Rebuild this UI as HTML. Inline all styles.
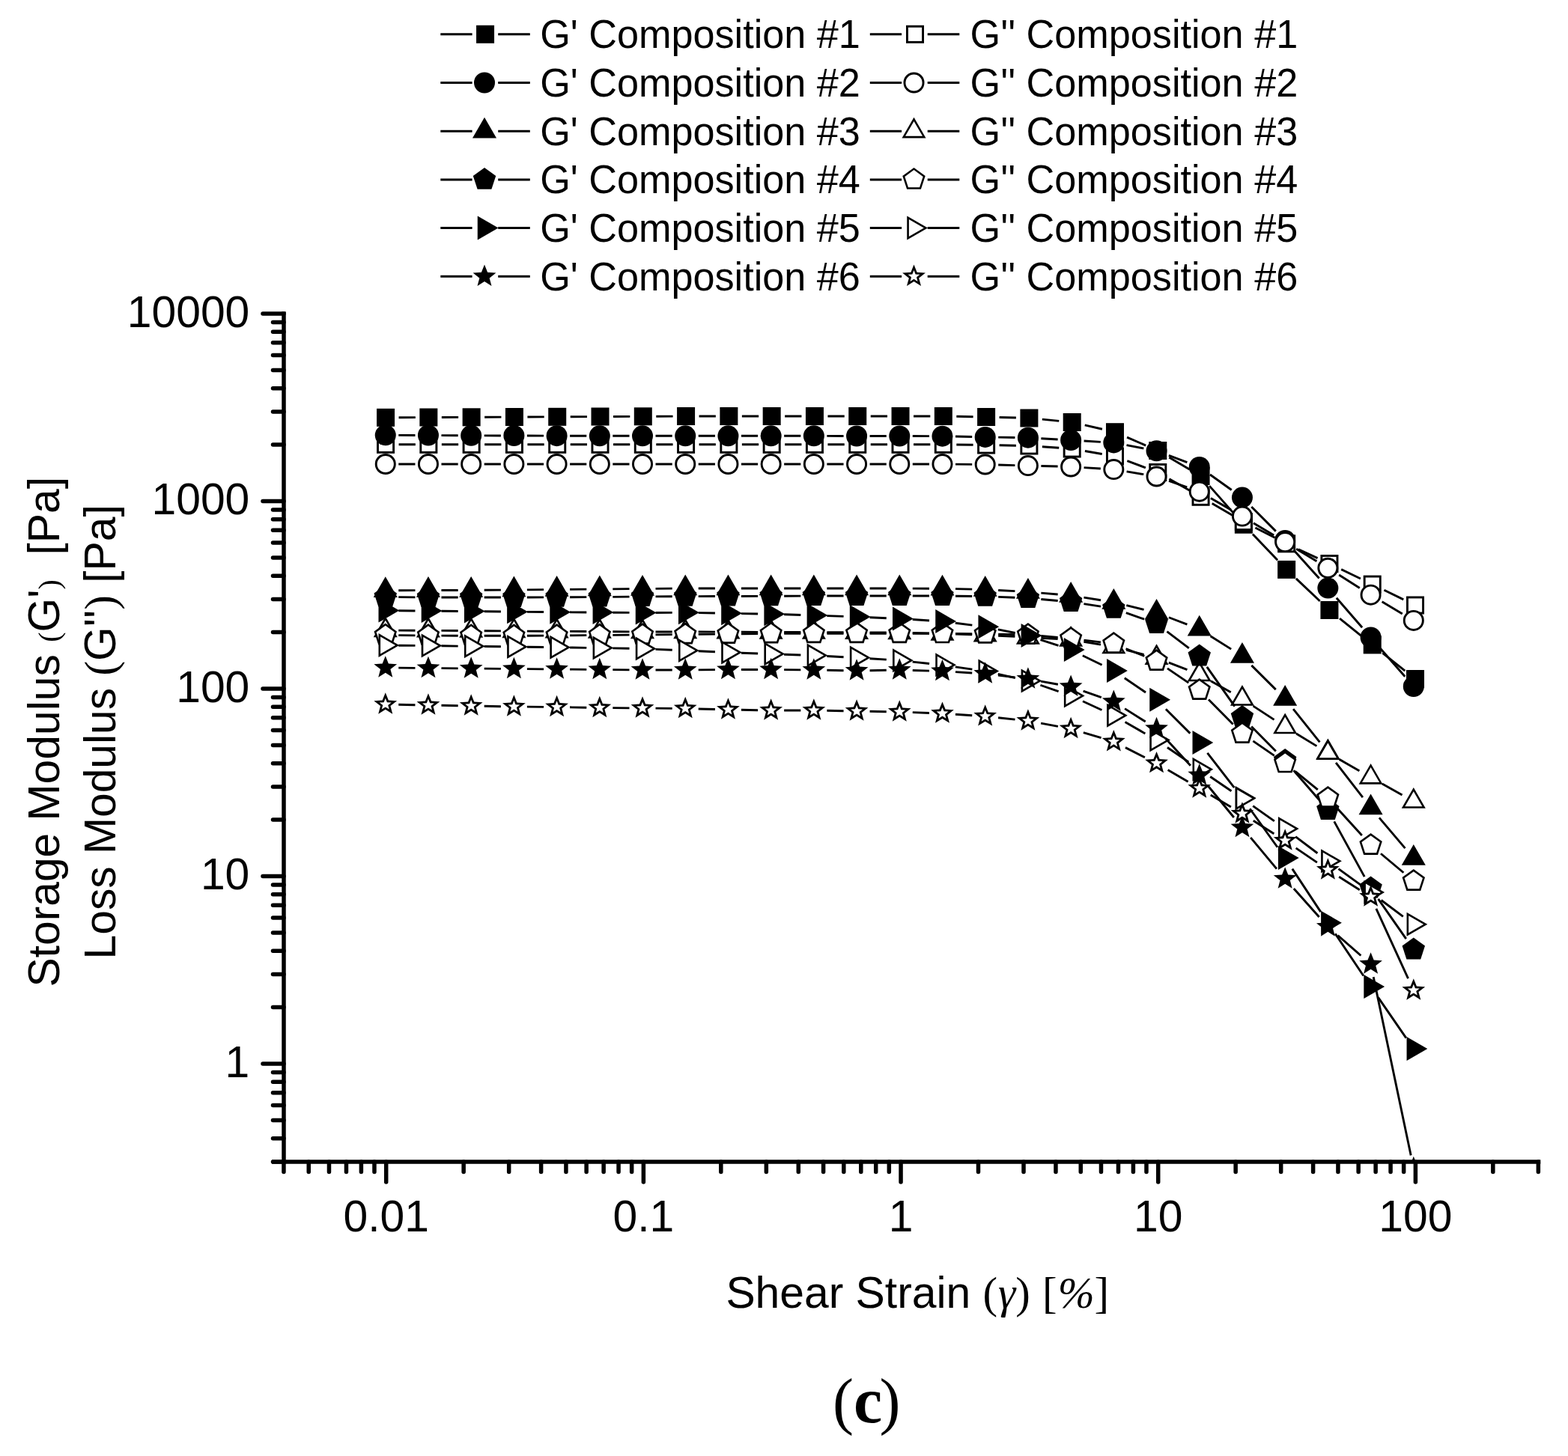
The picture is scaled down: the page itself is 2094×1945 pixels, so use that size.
<!DOCTYPE html><html><head><meta charset="utf-8"><title>Shear strain sweep</title><style>html,body{margin:0;padding:0;background:#fff}svg{display:block}.s{font-family:"Liberation Sans",Arial,sans-serif}.r{font-family:"Liberation Serif","Times New Roman",serif}</style></head><body><svg width="2094" height="1945" viewBox="0 0 2094 1945"><rect width="2094" height="1945" fill="#fff"/><defs><clipPath id="pa"><rect x="379" y="417" width="1676" height="1135"/></clipPath></defs><path d="M588.3 45.8H630.6M665.2 45.8H707.8" stroke="#000" stroke-width="3" fill="none"/><g fill="#000"><rect x="636.05" y="33.8" width="24" height="24"/></g><text class="s" font-size="52.2" transform="translate(721.2 64.3) scale(1 1.03)">G' Composition #1</text><path d="M1161.8 45.8H1204.1M1238.7 45.8H1281.3" stroke="#000" stroke-width="3" fill="none"/><g fill="#000"><rect x="1211.45" y="35.25" width="21.1" height="21.1" fill="#fff" stroke="#000" stroke-width="2.9"/></g><text class="s" font-size="52.2" transform="translate(1295.6 64.3) scale(1 1.03)">G'' Composition #1</text><path d="M588.3 110.5H630.6M665.2 110.5H707.8" stroke="#000" stroke-width="3" fill="none"/><g fill="#000"><circle cx="647" cy="110.5" r="14"/></g><text class="s" font-size="52.2" transform="translate(721.2 129) scale(1 1.03)">G' Composition #2</text><path d="M1161.8 110.5H1204.1M1238.7 110.5H1281.3" stroke="#000" stroke-width="3" fill="none"/><g fill="#000"><circle cx="1220.5" cy="110.5" r="12.55" fill="#fff" stroke="#000" stroke-width="2.9"/></g><text class="s" font-size="52.2" transform="translate(1295.6 129) scale(1 1.03)">G'' Composition #2</text><path d="M588.3 175.2H630.6M665.2 175.2H707.8" stroke="#000" stroke-width="3" fill="none"/><g fill="#000"><path d="M647 156.7 L663.02 184.45 L630.98 184.45 Z"/></g><text class="s" font-size="52.2" transform="translate(721.2 193.7) scale(1 1.03)">G' Composition #3</text><path d="M1161.8 175.2H1204.1M1238.7 175.2H1281.3" stroke="#000" stroke-width="3" fill="none"/><g fill="#000"><path d="M1220.5 156.7 L1236.52 184.45 L1204.48 184.45 Z"/><path d="M1220.5 161.9 L1232.02 181.85 L1208.98 181.85 Z" fill="#fff"/></g><text class="s" font-size="52.2" transform="translate(1295.6 193.7) scale(1 1.03)">G'' Composition #3</text><path d="M588.3 239.9H630.6M665.2 239.9H707.8" stroke="#000" stroke-width="3" fill="none"/><g fill="#000"><path d="M647 223.9 L662.22 234.96 L656.4 252.84 L637.6 252.84 L631.78 234.96 Z"/></g><text class="s" font-size="52.2" transform="translate(721.2 258.4) scale(1 1.03)">G' Composition #4</text><path d="M1161.8 239.9H1204.1M1238.7 239.9H1281.3" stroke="#000" stroke-width="3" fill="none"/><g fill="#000"><path d="M1220.5 223.9 L1235.72 234.96 L1229.9 252.84 L1211.1 252.84 L1205.28 234.96 Z"/><path d="M1220.5 227.11 L1232.66 235.95 L1228.02 250.24 L1212.98 250.24 L1208.34 235.95 Z" fill="#fff"/></g><text class="s" font-size="52.2" transform="translate(1295.6 258.4) scale(1 1.03)">G'' Composition #4</text><path d="M588.3 304.6H630.6M665.2 304.6H707.8" stroke="#000" stroke-width="3" fill="none"/><g fill="#000"><path d="M665.5 304.6 L637.75 320.62 L637.75 288.58 Z"/></g><text class="s" font-size="52.2" transform="translate(721.2 323.1) scale(1 1.03)">G' Composition #5</text><path d="M1161.8 304.6H1204.1M1238.7 304.6H1281.3" stroke="#000" stroke-width="3" fill="none"/><g fill="#000"><path d="M1239 304.6 L1211.25 320.62 L1211.25 288.58 Z"/><path d="M1233.8 304.6 L1213.85 316.12 L1213.85 293.08 Z" fill="#fff"/></g><text class="s" font-size="52.2" transform="translate(1295.6 323.1) scale(1 1.03)">G'' Composition #5</text><path d="M588.3 369.3H630.6M665.2 369.3H707.8" stroke="#000" stroke-width="3" fill="none"/><g fill="#000"><path d="M647 353.6 L651.12 363.8 L662.38 364.45 L653.66 371.4 L656.51 382 L647 376.1 L637.49 382 L640.34 371.4 L631.62 364.45 L642.88 363.8 Z"/></g><text class="s" font-size="52.2" transform="translate(721.2 387.8) scale(1 1.03)">G' Composition #6</text><path d="M1161.8 369.3H1204.1M1238.7 369.3H1281.3" stroke="#000" stroke-width="3" fill="none"/><g fill="#000"><path d="M1220.5 353.6 L1224.62 363.8 L1235.88 364.45 L1227.16 371.4 L1230.01 382 L1220.5 376.1 L1210.99 382 L1213.84 371.4 L1205.12 364.45 L1216.38 363.8 Z"/><path d="M1220.5 361.08 L1222.68 366.49 L1228.41 366.82 L1223.98 370.36 L1225.47 375.89 L1220.5 372.8 L1215.53 375.89 L1217.02 370.36 L1212.59 366.82 L1218.32 366.49 Z" fill="#fff"/></g><text class="s" font-size="52.2" transform="translate(1295.6 387.8) scale(1 1.03)">G'' Composition #6</text><g stroke="#000" stroke-width="5.5" fill="none" stroke-linecap="round"><path d="M379 416.25V1554.75" stroke-linecap="butt"/><path d="M363 1552H2057.3" stroke-linecap="butt"/><path d="M364.5 1551.98H379M364.5 1520.68H379M364.5 1496.41H379M364.5 1476.57H379M364.5 1459.8H379M364.5 1445.28H379M364.5 1432.46H379M351 1421H379M364.5 1345.59H379M364.5 1301.48H379M364.5 1270.18H379M364.5 1245.91H379M364.5 1226.07H379M364.5 1209.3H379M364.5 1194.78H379M364.5 1181.96H379M351 1170.5H379M364.5 1095.09H379M364.5 1050.98H379M364.5 1019.68H379M364.5 995.41H379M364.5 975.57H379M364.5 958.8H379M364.5 944.28H379M364.5 931.46H379M351 920H379M364.5 844.59H379M364.5 800.48H379M364.5 769.18H379M364.5 744.91H379M364.5 725.07H379M364.5 708.3H379M364.5 693.78H379M364.5 680.96H379M351 669.5H379M364.5 594.09H379M364.5 549.98H379M364.5 518.68H379M364.5 494.41H379M364.5 474.57H379M364.5 457.8H379M364.5 443.28H379M364.5 430.46H379M351 419H379"/><path d="M378.94 1552V1565.5M412.25 1552V1565.5M439.46 1552V1565.5M462.46 1552V1565.5M482.39 1552V1565.5M499.97 1552V1565.5M515.7 1552V1579M619.15 1552V1565.5M679.67 1552V1565.5M722.61 1552V1565.5M755.92 1552V1565.5M783.13 1552V1565.5M806.13 1552V1565.5M826.06 1552V1565.5M843.64 1552V1565.5M859.37 1552V1579M962.82 1552V1565.5M1023.34 1552V1565.5M1066.28 1552V1565.5M1099.59 1552V1565.5M1126.8 1552V1565.5M1149.8 1552V1565.5M1169.73 1552V1565.5M1187.31 1552V1565.5M1203.04 1552V1579M1306.49 1552V1565.5M1367.01 1552V1565.5M1409.95 1552V1565.5M1443.26 1552V1565.5M1470.47 1552V1565.5M1493.47 1552V1565.5M1513.4 1552V1565.5M1530.98 1552V1565.5M1546.71 1552V1579M1650.16 1552V1565.5M1710.68 1552V1565.5M1753.62 1552V1565.5M1786.93 1552V1565.5M1814.14 1552V1565.5M1837.14 1552V1565.5M1857.07 1552V1565.5M1874.65 1552V1565.5M1890.38 1552V1579M1993.83 1552V1565.5M2054.35 1552V1565.5"/></g><text class="s" font-size="58.8" text-anchor="end" x="333.3" y="436.5">10000</text><text class="s" font-size="58.8" text-anchor="end" x="333.3" y="687">1000</text><text class="s" font-size="58.8" text-anchor="end" x="333.3" y="937.5">100</text><text class="s" font-size="58.8" text-anchor="end" x="333.3" y="1188">10</text><text class="s" font-size="58.8" text-anchor="end" x="333.3" y="1438.5">1</text><text class="s" font-size="58.8" text-anchor="middle" x="515.7" y="1644.5">0.01</text><text class="s" font-size="58.8" text-anchor="middle" x="859.37" y="1644.5">0.1</text><text class="s" font-size="58.8" text-anchor="middle" x="1203.04" y="1644.5">1</text><text class="s" font-size="58.8" text-anchor="middle" x="1546.71" y="1644.5">10</text><text class="s" font-size="58.8" text-anchor="middle" x="1890.38" y="1644.5">100</text><text class="s" font-size="58.8" transform="translate(969.4 1747.3) scale(1 1.012)">Shear Strain <tspan class="r">(<tspan font-style="italic" dx="1">γ</tspan>)<tspan dx="1.5"> </tspan>[<tspan font-style="italic" dx="1">%</tspan>]</tspan></text><text class="s" xml:space="preserve" font-size="58.8" transform="translate(79.2 1318.6) rotate(-90) scale(1 1.02)">Storage Modulus <tspan class="r" font-size="40">(</tspan>G'<tspan class="r" font-size="40">)</tspan>  [Pa]</text><text class="s" xml:space="preserve" font-size="58.8" transform="translate(154.2 1281.5) rotate(-90) scale(1 1.02)">Loss Modulus <tspan class="r">(</tspan>G''<tspan class="r">)</tspan> [Pa]</text><text class="r" font-size="84" y="1900"><tspan x="1112.1">(</tspan><tspan x="1140.1" font-weight="bold" font-size="86">c</tspan><tspan x="1174.4">)</tspan></text><g clip-path="url(#pa)"><path d="M532.55 557.71L554.84 557.59M589.84 557.44L612.13 557.36M647.13 557.21L669.42 557.09M704.42 556.94L726.71 556.86M761.71 556.71L784 556.59M819 556.44L841.29 556.36M876.29 556.21L898.58 556.09M933.58 556L955.87 556M990.87 556L1013.16 556M1048.16 556L1070.45 556M1105.45 556L1127.74 556M1162.74 556L1185.03 556M1220.03 556L1242.32 556M1277.32 556.31L1299.61 556.69M1334.6 557.46L1356.91 558.04M1391.82 560.17L1414.27 562.33M1448.74 567.93L1471.93 573.27M1505.04 584.15L1530.21 595.05M1561.32 610.93L1588.51 627.07M1615.16 649.1L1649.25 687.6M1672.91 713.38L1706.08 748.22M1730.86 772.92L1762.71 802.98M1789.03 826.01L1819.12 850.39M1846.41 872.3L1876.32 896.1" stroke="#000" stroke-width="2.9" fill="none"/><g fill="#000"><rect x="503.05" y="545.8" width="24" height="24"/><rect x="560.34" y="545.5" width="24" height="24"/><rect x="617.63" y="545.3" width="24" height="24"/><rect x="674.92" y="545" width="24" height="24"/><rect x="732.21" y="544.8" width="24" height="24"/><rect x="789.5" y="544.5" width="24" height="24"/><rect x="846.79" y="544.3" width="24" height="24"/><rect x="904.08" y="544" width="24" height="24"/><rect x="961.37" y="544" width="24" height="24"/><rect x="1018.66" y="544" width="24" height="24"/><rect x="1075.95" y="544" width="24" height="24"/><rect x="1133.24" y="544" width="24" height="24"/><rect x="1190.53" y="544" width="24" height="24"/><rect x="1247.82" y="544" width="24" height="24"/><rect x="1305.11" y="545" width="24" height="24"/><rect x="1362.4" y="546.5" width="24" height="24"/><rect x="1419.69" y="552" width="24" height="24"/><rect x="1476.98" y="565.2" width="24" height="24"/><rect x="1534.27" y="590" width="24" height="24"/><rect x="1591.56" y="624" width="24" height="24"/><rect x="1648.85" y="688.7" width="24" height="24"/><rect x="1706.14" y="748.9" width="24" height="24"/><rect x="1763.43" y="803" width="24" height="24"/><rect x="1820.72" y="849.4" width="24" height="24"/><rect x="1878.01" y="895" width="24" height="24"/></g><path d="M532.55 593.8L554.84 593.8M589.84 593.8L612.13 593.8M647.13 593.8L669.42 593.8M704.42 593.8L726.71 593.8M761.71 593.8L784 593.8M819 593.8L841.29 593.8M876.29 593.8L898.58 593.8M933.58 593.8L955.87 593.8M990.87 593.8L1013.16 593.8M1048.16 593.8L1070.45 593.8M1105.45 593.8L1127.74 593.8M1162.74 593.8L1185.03 593.8M1220.03 593.8L1242.32 593.8M1277.32 594.01L1299.61 594.29M1334.61 594.81L1356.9 595.19M1391.86 596.72L1414.23 598.28M1448.93 602.51L1471.74 606.49M1505.36 615.65L1529.89 624.85M1561.46 639.69L1588.37 655.11M1618.7 672.57L1645.71 688.23M1676.43 704.97L1702.56 718.33M1734 733.69L1759.57 745.61M1791.2 760.6L1816.95 773M1848.45 788.26L1874.28 800.84" stroke="#000" stroke-width="2.9" fill="none"/><g fill="#000"><rect x="504.5" y="583.25" width="21.1" height="21.1" fill="#fff" stroke="#000" stroke-width="2.9"/><rect x="561.79" y="583.25" width="21.1" height="21.1" fill="#fff" stroke="#000" stroke-width="2.9"/><rect x="619.08" y="583.25" width="21.1" height="21.1" fill="#fff" stroke="#000" stroke-width="2.9"/><rect x="676.37" y="583.25" width="21.1" height="21.1" fill="#fff" stroke="#000" stroke-width="2.9"/><rect x="733.66" y="583.25" width="21.1" height="21.1" fill="#fff" stroke="#000" stroke-width="2.9"/><rect x="790.95" y="583.25" width="21.1" height="21.1" fill="#fff" stroke="#000" stroke-width="2.9"/><rect x="848.24" y="583.25" width="21.1" height="21.1" fill="#fff" stroke="#000" stroke-width="2.9"/><rect x="905.53" y="583.25" width="21.1" height="21.1" fill="#fff" stroke="#000" stroke-width="2.9"/><rect x="962.82" y="583.25" width="21.1" height="21.1" fill="#fff" stroke="#000" stroke-width="2.9"/><rect x="1020.11" y="583.25" width="21.1" height="21.1" fill="#fff" stroke="#000" stroke-width="2.9"/><rect x="1077.4" y="583.25" width="21.1" height="21.1" fill="#fff" stroke="#000" stroke-width="2.9"/><rect x="1134.69" y="583.25" width="21.1" height="21.1" fill="#fff" stroke="#000" stroke-width="2.9"/><rect x="1191.98" y="583.25" width="21.1" height="21.1" fill="#fff" stroke="#000" stroke-width="2.9"/><rect x="1249.27" y="583.25" width="21.1" height="21.1" fill="#fff" stroke="#000" stroke-width="2.9"/><rect x="1306.56" y="583.95" width="21.1" height="21.1" fill="#fff" stroke="#000" stroke-width="2.9"/><rect x="1363.85" y="584.95" width="21.1" height="21.1" fill="#fff" stroke="#000" stroke-width="2.9"/><rect x="1421.14" y="588.95" width="21.1" height="21.1" fill="#fff" stroke="#000" stroke-width="2.9"/><rect x="1478.43" y="598.95" width="21.1" height="21.1" fill="#fff" stroke="#000" stroke-width="2.9"/><rect x="1535.72" y="620.45" width="21.1" height="21.1" fill="#fff" stroke="#000" stroke-width="2.9"/><rect x="1593.01" y="653.25" width="21.1" height="21.1" fill="#fff" stroke="#000" stroke-width="2.9"/><rect x="1650.3" y="686.45" width="21.1" height="21.1" fill="#fff" stroke="#000" stroke-width="2.9"/><rect x="1707.59" y="715.75" width="21.1" height="21.1" fill="#fff" stroke="#000" stroke-width="2.9"/><rect x="1764.88" y="742.45" width="21.1" height="21.1" fill="#fff" stroke="#000" stroke-width="2.9"/><rect x="1822.17" y="770.05" width="21.1" height="21.1" fill="#fff" stroke="#000" stroke-width="2.9"/><rect x="1879.46" y="797.95" width="21.1" height="21.1" fill="#fff" stroke="#000" stroke-width="2.9"/></g><path d="M532.25 581.36L554.46 581.44M589.46 581.59L611.67 581.71M646.67 581.86L668.88 581.94M703.88 582.06L726.09 582.14M761.09 582.23L783.3 582.27M818.3 582.3L840.51 582.3M875.51 582.3L897.72 582.3M932.72 582.3L954.93 582.3M989.93 582.3L1012.14 582.3M1047.14 582.3L1069.35 582.3M1104.35 582.36L1126.56 582.44M1161.56 582.5L1183.77 582.5M1218.77 582.56L1240.98 582.64M1275.98 583.07L1298.19 583.53M1333.19 584.14L1355.4 584.46M1390.37 585.71L1412.64 586.99M1447.58 589.04L1469.85 590.36M1504.51 594.68L1527.34 599.02M1560.9 608.48L1585.37 617.72M1616 634.04L1644.69 654.46M1671.3 676.99L1703.81 709.61M1727.86 735.01L1761.67 772.59M1784.84 798.81L1819.11 838.29M1842.09 864.68L1876.28 903.82" stroke="#000" stroke-width="2.9" fill="none"/><g fill="#000"><circle cx="514.75" cy="581.3" r="14"/><circle cx="571.96" cy="581.5" r="14"/><circle cx="629.17" cy="581.8" r="14"/><circle cx="686.38" cy="582" r="14"/><circle cx="743.59" cy="582.2" r="14"/><circle cx="800.8" cy="582.3" r="14"/><circle cx="858.01" cy="582.3" r="14"/><circle cx="915.22" cy="582.3" r="14"/><circle cx="972.43" cy="582.3" r="14"/><circle cx="1029.64" cy="582.3" r="14"/><circle cx="1086.85" cy="582.3" r="14"/><circle cx="1144.06" cy="582.5" r="14"/><circle cx="1201.27" cy="582.5" r="14"/><circle cx="1258.48" cy="582.7" r="14"/><circle cx="1315.69" cy="583.9" r="14"/><circle cx="1372.9" cy="584.7" r="14"/><circle cx="1430.11" cy="588" r="14"/><circle cx="1487.32" cy="591.4" r="14"/><circle cx="1544.53" cy="602.3" r="14"/><circle cx="1601.74" cy="623.9" r="14"/><circle cx="1658.95" cy="664.6" r="14"/><circle cx="1716.16" cy="722" r="14"/><circle cx="1773.37" cy="785.6" r="14"/><circle cx="1830.58" cy="851.5" r="14"/><circle cx="1887.79" cy="917" r="14"/></g><path d="M532.25 620L554.46 620M589.46 620L611.67 620M646.67 620L668.88 620M703.88 620L726.09 620M761.09 620L783.3 620M818.3 620L840.51 620M875.51 620L897.72 620M932.72 620L954.93 620M989.93 620L1012.14 620M1047.14 620L1069.35 620M1104.35 620L1126.56 620M1161.56 620L1183.77 620M1218.77 620L1240.98 620M1275.98 620.15L1298.19 620.35M1333.18 620.99L1355.41 621.61M1390.39 622.53L1412.62 623.07M1447.58 624.6L1469.85 626M1504.59 629.94L1527.26 633.66M1561.03 642.33L1585.24 650.87M1616.91 665.42L1643.78 680.88M1673.94 698.64L1701.17 715.06M1731.12 733.18L1758.41 749.72M1788.19 768.1L1815.76 785.4M1845.6 803.68L1872.77 819.92" stroke="#000" stroke-width="2.9" fill="none"/><g fill="#000"><circle cx="514.75" cy="620" r="12.55" fill="#fff" stroke="#000" stroke-width="2.9"/><circle cx="571.96" cy="620" r="12.55" fill="#fff" stroke="#000" stroke-width="2.9"/><circle cx="629.17" cy="620" r="12.55" fill="#fff" stroke="#000" stroke-width="2.9"/><circle cx="686.38" cy="620" r="12.55" fill="#fff" stroke="#000" stroke-width="2.9"/><circle cx="743.59" cy="620" r="12.55" fill="#fff" stroke="#000" stroke-width="2.9"/><circle cx="800.8" cy="620" r="12.55" fill="#fff" stroke="#000" stroke-width="2.9"/><circle cx="858.01" cy="620" r="12.55" fill="#fff" stroke="#000" stroke-width="2.9"/><circle cx="915.22" cy="620" r="12.55" fill="#fff" stroke="#000" stroke-width="2.9"/><circle cx="972.43" cy="620" r="12.55" fill="#fff" stroke="#000" stroke-width="2.9"/><circle cx="1029.64" cy="620" r="12.55" fill="#fff" stroke="#000" stroke-width="2.9"/><circle cx="1086.85" cy="620" r="12.55" fill="#fff" stroke="#000" stroke-width="2.9"/><circle cx="1144.06" cy="620" r="12.55" fill="#fff" stroke="#000" stroke-width="2.9"/><circle cx="1201.27" cy="620" r="12.55" fill="#fff" stroke="#000" stroke-width="2.9"/><circle cx="1258.48" cy="620" r="12.55" fill="#fff" stroke="#000" stroke-width="2.9"/><circle cx="1315.69" cy="620.5" r="12.55" fill="#fff" stroke="#000" stroke-width="2.9"/><circle cx="1372.9" cy="622.1" r="12.55" fill="#fff" stroke="#000" stroke-width="2.9"/><circle cx="1430.11" cy="623.5" r="12.55" fill="#fff" stroke="#000" stroke-width="2.9"/><circle cx="1487.32" cy="627.1" r="12.55" fill="#fff" stroke="#000" stroke-width="2.9"/><circle cx="1544.53" cy="636.5" r="12.55" fill="#fff" stroke="#000" stroke-width="2.9"/><circle cx="1601.74" cy="656.7" r="12.55" fill="#fff" stroke="#000" stroke-width="2.9"/><circle cx="1658.95" cy="689.6" r="12.55" fill="#fff" stroke="#000" stroke-width="2.9"/><circle cx="1716.16" cy="724.1" r="12.55" fill="#fff" stroke="#000" stroke-width="2.9"/><circle cx="1773.37" cy="758.8" r="12.55" fill="#fff" stroke="#000" stroke-width="2.9"/><circle cx="1830.58" cy="794.7" r="12.55" fill="#fff" stroke="#000" stroke-width="2.9"/><circle cx="1887.79" cy="828.9" r="12.55" fill="#fff" stroke="#000" stroke-width="2.9"/></g><path d="M532.25 788.74L554.46 788.66M589.46 788.54L611.67 788.46M646.67 788.28L668.88 788.12M703.88 787.85L726.09 787.65M761.09 787.35L783.3 787.15M818.3 786.85L840.51 786.65M875.51 786.35L897.72 786.15M932.72 786L954.93 786M989.93 786L1012.14 786M1047.14 786L1069.35 786M1104.35 786L1126.56 786M1161.56 786L1183.77 786M1218.77 786.09L1240.98 786.21M1275.98 786.67L1298.19 787.13M1333.16 788.45L1355.43 789.65M1390.34 792.09L1412.67 794.01M1447.4 798.19L1470.03 801.71M1504.31 808.59L1527.54 814.31M1560.88 824.73L1585.39 834.07M1616.53 849.66L1644.16 867.14M1671.35 888.85L1703.76 921.15M1727.09 947.16L1762.44 991.34M1784.07 1018.84L1819.88 1065.16M1841.89 1092.35L1876.48 1133.15" stroke="#000" stroke-width="2.9" fill="none"/><g fill="#000"><path d="M514.75 770.3 L530.77 798.05 L498.73 798.05 Z"/><path d="M571.96 770.1 L587.98 797.85 L555.94 797.85 Z"/><path d="M629.17 769.9 L645.19 797.65 L613.15 797.65 Z"/><path d="M686.38 769.5 L702.4 797.25 L670.36 797.25 Z"/><path d="M743.59 769 L759.61 796.75 L727.57 796.75 Z"/><path d="M800.8 768.5 L816.82 796.25 L784.78 796.25 Z"/><path d="M858.01 768 L874.03 795.75 L841.99 795.75 Z"/><path d="M915.22 767.5 L931.24 795.25 L899.2 795.25 Z"/><path d="M972.43 767.5 L988.45 795.25 L956.41 795.25 Z"/><path d="M1029.64 767.5 L1045.66 795.25 L1013.62 795.25 Z"/><path d="M1086.85 767.5 L1102.87 795.25 L1070.83 795.25 Z"/><path d="M1144.06 767.5 L1160.08 795.25 L1128.04 795.25 Z"/><path d="M1201.27 767.5 L1217.29 795.25 L1185.25 795.25 Z"/><path d="M1258.48 767.8 L1274.5 795.55 L1242.46 795.55 Z"/><path d="M1315.69 769 L1331.71 796.75 L1299.67 796.75 Z"/><path d="M1372.9 772.1 L1388.92 799.85 L1356.88 799.85 Z"/><path d="M1430.11 777 L1446.13 804.75 L1414.09 804.75 Z"/><path d="M1487.32 785.9 L1503.34 813.65 L1471.3 813.65 Z"/><path d="M1544.53 800 L1560.55 827.75 L1528.51 827.75 Z"/><path d="M1601.74 821.8 L1617.76 849.55 L1585.72 849.55 Z"/><path d="M1658.95 858 L1674.97 885.75 L1642.93 885.75 Z"/><path d="M1716.16 915 L1732.18 942.75 L1700.14 942.75 Z"/><path d="M1773.37 986.5 L1789.39 1014.25 L1757.35 1014.25 Z"/><path d="M1830.58 1060.5 L1846.6 1088.25 L1814.56 1088.25 Z"/><path d="M1887.79 1128 L1903.81 1155.75 L1871.77 1155.75 Z"/></g><path d="M532.25 842.09L554.46 842.21M589.46 842.39L611.67 842.51M646.67 842.72L668.88 842.88M703.88 843.09L726.09 843.21M761.09 843.39L783.3 843.51M818.3 843.72L840.51 843.88M875.51 844L897.72 844M932.72 844.06L954.93 844.14M989.93 844.26L1012.14 844.34M1047.14 844.46L1069.35 844.54M1104.35 844.66L1126.56 844.74M1161.56 844.86L1183.77 844.94M1218.76 845.46L1240.99 846.04M1275.97 847.02L1298.2 847.68M1333.16 849.18L1355.43 850.42M1390.37 852.35L1412.64 853.55M1447.38 857.34L1470.05 861.06M1504.26 868.31L1527.59 874.39M1560.84 885.13L1585.43 894.67M1616.96 909.64L1643.73 924.86M1673.59 943.09L1701.52 961.41M1731.12 980.08L1758.41 996.62M1788.56 1014.38L1815.39 1029.72M1845.83 1046.98L1872.54 1062.02" stroke="#000" stroke-width="2.9" fill="none"/><g fill="#000"><path d="M514.75 823.5 L530.77 851.25 L498.73 851.25 Z"/><path d="M514.75 828.7 L526.27 848.65 L503.23 848.65 Z" fill="#fff"/><path d="M571.96 823.8 L587.98 851.55 L555.94 851.55 Z"/><path d="M571.96 829 L583.48 848.95 L560.44 848.95 Z" fill="#fff"/><path d="M629.17 824.1 L645.19 851.85 L613.15 851.85 Z"/><path d="M629.17 829.3 L640.69 849.25 L617.65 849.25 Z" fill="#fff"/><path d="M686.38 824.5 L702.4 852.25 L670.36 852.25 Z"/><path d="M686.38 829.7 L697.9 849.65 L674.86 849.65 Z" fill="#fff"/><path d="M743.59 824.8 L759.61 852.55 L727.57 852.55 Z"/><path d="M743.59 830 L755.11 849.95 L732.07 849.95 Z" fill="#fff"/><path d="M800.8 825.1 L816.82 852.85 L784.78 852.85 Z"/><path d="M800.8 830.3 L812.32 850.25 L789.28 850.25 Z" fill="#fff"/><path d="M858.01 825.5 L874.03 853.25 L841.99 853.25 Z"/><path d="M858.01 830.7 L869.53 850.65 L846.49 850.65 Z" fill="#fff"/><path d="M915.22 825.5 L931.24 853.25 L899.2 853.25 Z"/><path d="M915.22 830.7 L926.74 850.65 L903.7 850.65 Z" fill="#fff"/><path d="M972.43 825.7 L988.45 853.45 L956.41 853.45 Z"/><path d="M972.43 830.9 L983.95 850.85 L960.91 850.85 Z" fill="#fff"/><path d="M1029.64 825.9 L1045.66 853.65 L1013.62 853.65 Z"/><path d="M1029.64 831.1 L1041.16 851.05 L1018.12 851.05 Z" fill="#fff"/><path d="M1086.85 826.1 L1102.87 853.85 L1070.83 853.85 Z"/><path d="M1086.85 831.3 L1098.37 851.25 L1075.33 851.25 Z" fill="#fff"/><path d="M1144.06 826.3 L1160.08 854.05 L1128.04 854.05 Z"/><path d="M1144.06 831.5 L1155.58 851.45 L1132.54 851.45 Z" fill="#fff"/><path d="M1201.27 826.5 L1217.29 854.25 L1185.25 854.25 Z"/><path d="M1201.27 831.7 L1212.79 851.65 L1189.75 851.65 Z" fill="#fff"/><path d="M1258.48 828 L1274.5 855.75 L1242.46 855.75 Z"/><path d="M1258.48 833.2 L1270 853.15 L1246.96 853.15 Z" fill="#fff"/><path d="M1315.69 829.7 L1331.71 857.45 L1299.67 857.45 Z"/><path d="M1315.69 834.9 L1327.21 854.85 L1304.17 854.85 Z" fill="#fff"/><path d="M1372.9 832.9 L1388.92 860.65 L1356.88 860.65 Z"/><path d="M1372.9 838.1 L1384.42 858.05 L1361.38 858.05 Z" fill="#fff"/><path d="M1430.11 836 L1446.13 863.75 L1414.09 863.75 Z"/><path d="M1430.11 841.2 L1441.63 861.15 L1418.59 861.15 Z" fill="#fff"/><path d="M1487.32 845.4 L1503.34 873.15 L1471.3 873.15 Z"/><path d="M1487.32 850.6 L1498.84 870.55 L1475.8 870.55 Z" fill="#fff"/><path d="M1544.53 860.3 L1560.55 888.05 L1528.51 888.05 Z"/><path d="M1544.53 865.5 L1556.05 885.45 L1533.01 885.45 Z" fill="#fff"/><path d="M1601.74 882.5 L1617.76 910.25 L1585.72 910.25 Z"/><path d="M1601.74 887.7 L1613.26 907.65 L1590.22 907.65 Z" fill="#fff"/><path d="M1658.95 915 L1674.97 942.75 L1642.93 942.75 Z"/><path d="M1658.95 920.2 L1670.47 940.15 L1647.43 940.15 Z" fill="#fff"/><path d="M1716.16 952.5 L1732.18 980.25 L1700.14 980.25 Z"/><path d="M1716.16 957.7 L1727.68 977.65 L1704.64 977.65 Z" fill="#fff"/><path d="M1773.37 987.2 L1789.39 1014.95 L1757.35 1014.95 Z"/><path d="M1773.37 992.4 L1784.89 1012.35 L1761.85 1012.35 Z" fill="#fff"/><path d="M1830.58 1019.9 L1846.6 1047.65 L1814.56 1047.65 Z"/><path d="M1830.58 1025.1 L1842.1 1045.05 L1819.06 1045.05 Z" fill="#fff"/><path d="M1887.79 1052.1 L1903.81 1079.85 L1871.77 1079.85 Z"/><path d="M1887.79 1057.3 L1899.31 1077.25 L1876.27 1077.25 Z" fill="#fff"/></g><path d="M532.25 797.65L554.46 797.85M589.46 798L611.67 798M646.67 798L668.88 798M703.88 797.94L726.09 797.86M761.09 797.71L783.3 797.59M818.3 797.35L840.51 797.15M875.51 796.91L897.72 796.79M932.72 796.64L954.93 796.56M989.93 796.44L1012.14 796.36M1047.14 796.21L1069.35 796.09M1104.35 796L1126.56 796M1161.56 796L1183.77 796M1218.77 796L1240.98 796M1275.98 796.21L1298.19 796.49M1333.18 797.4L1355.41 798.3M1390.33 800.52L1412.68 802.48M1447.41 806.63L1470.02 810.07M1503.8 818.58L1528.05 827.22M1558.47 843.68L1587.8 865.92M1611.79 890.82L1648.9 943.68M1671.24 970.46L1703.87 1003.54M1727.62 1029.22L1761.91 1068.78M1781.77 1097.35L1822.18 1171.15M1840.59 1200.85L1877.78 1254.15" stroke="#000" stroke-width="2.9" fill="none"/><g fill="#000"><path d="M514.75 781.5 L529.97 792.56 L524.15 810.44 L505.35 810.44 L499.53 792.56 Z"/><path d="M571.96 782 L587.18 793.06 L581.36 810.94 L562.56 810.94 L556.74 793.06 Z"/><path d="M629.17 782 L644.39 793.06 L638.57 810.94 L619.77 810.94 L613.95 793.06 Z"/><path d="M686.38 782 L701.6 793.06 L695.78 810.94 L676.98 810.94 L671.16 793.06 Z"/><path d="M743.59 781.8 L758.81 792.86 L752.99 810.74 L734.19 810.74 L728.37 792.86 Z"/><path d="M800.8 781.5 L816.02 792.56 L810.2 810.44 L791.4 810.44 L785.58 792.56 Z"/><path d="M858.01 781 L873.23 792.06 L867.41 809.94 L848.61 809.94 L842.79 792.06 Z"/><path d="M915.22 780.7 L930.44 791.76 L924.62 809.64 L905.82 809.64 L900 791.76 Z"/><path d="M972.43 780.5 L987.65 791.56 L981.83 809.44 L963.03 809.44 L957.21 791.56 Z"/><path d="M1029.64 780.3 L1044.86 791.36 L1039.04 809.24 L1020.24 809.24 L1014.42 791.36 Z"/><path d="M1086.85 780 L1102.07 791.06 L1096.25 808.94 L1077.45 808.94 L1071.63 791.06 Z"/><path d="M1144.06 780 L1159.28 791.06 L1153.46 808.94 L1134.66 808.94 L1128.84 791.06 Z"/><path d="M1201.27 780 L1216.49 791.06 L1210.67 808.94 L1191.87 808.94 L1186.05 791.06 Z"/><path d="M1258.48 780 L1273.7 791.06 L1267.88 808.94 L1249.08 808.94 L1243.26 791.06 Z"/><path d="M1315.69 780.7 L1330.91 791.76 L1325.09 809.64 L1306.29 809.64 L1300.47 791.76 Z"/><path d="M1372.9 783 L1388.12 794.06 L1382.3 811.94 L1363.5 811.94 L1357.68 794.06 Z"/><path d="M1430.11 788 L1445.33 799.06 L1439.51 816.94 L1420.71 816.94 L1414.89 799.06 Z"/><path d="M1487.32 796.7 L1502.54 807.76 L1496.72 825.64 L1477.92 825.64 L1472.1 807.76 Z"/><path d="M1544.53 817.1 L1559.75 828.16 L1553.93 846.04 L1535.13 846.04 L1529.31 828.16 Z"/><path d="M1601.74 860.5 L1616.96 871.56 L1611.14 889.44 L1592.34 889.44 L1586.52 871.56 Z"/><path d="M1658.95 942 L1674.17 953.06 L1668.35 970.94 L1649.55 970.94 L1643.73 953.06 Z"/><path d="M1716.16 1000 L1731.38 1011.06 L1725.56 1028.94 L1706.76 1028.94 L1700.94 1011.06 Z"/><path d="M1773.37 1066 L1788.59 1077.06 L1782.77 1094.94 L1763.97 1094.94 L1758.15 1077.06 Z"/><path d="M1830.58 1170.5 L1845.8 1181.56 L1839.98 1199.44 L1821.18 1199.44 L1815.36 1181.56 Z"/><path d="M1887.79 1252.5 L1903.01 1263.56 L1897.19 1281.44 L1878.39 1281.44 L1872.57 1263.56 Z"/></g><path d="M532.25 848.65L554.46 848.85M589.46 849.09L611.67 849.21M646.67 849.3L668.88 849.3M703.88 849.21L726.09 849.09M761.09 848.85L783.3 848.65M818.3 848.35L840.51 848.15M875.51 847.85L897.72 847.65M932.72 847.35L954.93 847.15M989.93 846.85L1012.14 846.65M1047.14 846.41L1069.35 846.29M1104.35 846.2L1126.56 846.2M1161.56 846.2L1183.77 846.2M1218.77 846.23L1240.98 846.27M1275.98 846.42L1298.19 846.58M1333.19 847.1L1355.4 847.6M1390.33 849.52L1412.68 851.48M1447.48 855.13L1469.95 857.87M1503.56 866.53L1528.29 876.47M1558.99 892.86L1587.28 912.14M1614.03 934.46L1646.66 967.54M1673.37 989.91L1701.74 1009.39M1729.72 1030.37L1759.81 1054.93M1785.13 1078.96L1818.82 1116.04M1843.99 1140.25L1874.38 1165.75" stroke="#000" stroke-width="2.9" fill="none"/><g fill="#000"><path d="M514.75 832.5 L529.97 843.56 L524.15 861.44 L505.35 861.44 L499.53 843.56 Z"/><path d="M514.75 835.71 L526.91 844.55 L522.27 858.84 L507.23 858.84 L502.59 844.55 Z" fill="#fff"/><path d="M571.96 833 L587.18 844.06 L581.36 861.94 L562.56 861.94 L556.74 844.06 Z"/><path d="M571.96 836.21 L584.12 845.05 L579.48 859.34 L564.44 859.34 L559.8 845.05 Z" fill="#fff"/><path d="M629.17 833.3 L644.39 844.36 L638.57 862.24 L619.77 862.24 L613.95 844.36 Z"/><path d="M629.17 836.51 L641.33 845.35 L636.69 859.64 L621.65 859.64 L617.01 845.35 Z" fill="#fff"/><path d="M686.38 833.3 L701.6 844.36 L695.78 862.24 L676.98 862.24 L671.16 844.36 Z"/><path d="M686.38 836.51 L698.54 845.35 L693.9 859.64 L678.86 859.64 L674.22 845.35 Z" fill="#fff"/><path d="M743.59 833 L758.81 844.06 L752.99 861.94 L734.19 861.94 L728.37 844.06 Z"/><path d="M743.59 836.21 L755.75 845.05 L751.11 859.34 L736.07 859.34 L731.43 845.05 Z" fill="#fff"/><path d="M800.8 832.5 L816.02 843.56 L810.2 861.44 L791.4 861.44 L785.58 843.56 Z"/><path d="M800.8 835.71 L812.96 844.55 L808.32 858.84 L793.28 858.84 L788.64 844.55 Z" fill="#fff"/><path d="M858.01 832 L873.23 843.06 L867.41 860.94 L848.61 860.94 L842.79 843.06 Z"/><path d="M858.01 835.21 L870.17 844.05 L865.53 858.34 L850.49 858.34 L845.85 844.05 Z" fill="#fff"/><path d="M915.22 831.5 L930.44 842.56 L924.62 860.44 L905.82 860.44 L900 842.56 Z"/><path d="M915.22 834.71 L927.38 843.55 L922.74 857.84 L907.7 857.84 L903.06 843.55 Z" fill="#fff"/><path d="M972.43 831 L987.65 842.06 L981.83 859.94 L963.03 859.94 L957.21 842.06 Z"/><path d="M972.43 834.21 L984.59 843.05 L979.95 857.34 L964.91 857.34 L960.27 843.05 Z" fill="#fff"/><path d="M1029.64 830.5 L1044.86 841.56 L1039.04 859.44 L1020.24 859.44 L1014.42 841.56 Z"/><path d="M1029.64 833.71 L1041.8 842.55 L1037.16 856.84 L1022.12 856.84 L1017.48 842.55 Z" fill="#fff"/><path d="M1086.85 830.2 L1102.07 841.26 L1096.25 859.14 L1077.45 859.14 L1071.63 841.26 Z"/><path d="M1086.85 833.41 L1099.01 842.25 L1094.37 856.54 L1079.33 856.54 L1074.69 842.25 Z" fill="#fff"/><path d="M1144.06 830.2 L1159.28 841.26 L1153.46 859.14 L1134.66 859.14 L1128.84 841.26 Z"/><path d="M1144.06 833.41 L1156.22 842.25 L1151.58 856.54 L1136.54 856.54 L1131.9 842.25 Z" fill="#fff"/><path d="M1201.27 830.2 L1216.49 841.26 L1210.67 859.14 L1191.87 859.14 L1186.05 841.26 Z"/><path d="M1201.27 833.41 L1213.43 842.25 L1208.79 856.54 L1193.75 856.54 L1189.11 842.25 Z" fill="#fff"/><path d="M1258.48 830.3 L1273.7 841.36 L1267.88 859.24 L1249.08 859.24 L1243.26 841.36 Z"/><path d="M1258.48 833.51 L1270.64 842.35 L1266 856.64 L1250.96 856.64 L1246.32 842.35 Z" fill="#fff"/><path d="M1315.69 830.7 L1330.91 841.76 L1325.09 859.64 L1306.29 859.64 L1300.47 841.76 Z"/><path d="M1315.69 833.91 L1327.85 842.75 L1323.21 857.04 L1308.17 857.04 L1303.53 842.75 Z" fill="#fff"/><path d="M1372.9 832 L1388.12 843.06 L1382.3 860.94 L1363.5 860.94 L1357.68 843.06 Z"/><path d="M1372.9 835.21 L1385.06 844.05 L1380.42 858.34 L1365.38 858.34 L1360.74 844.05 Z" fill="#fff"/><path d="M1430.11 837 L1445.33 848.06 L1439.51 865.94 L1420.71 865.94 L1414.89 848.06 Z"/><path d="M1430.11 840.21 L1442.27 849.05 L1437.63 863.34 L1422.59 863.34 L1417.95 849.05 Z" fill="#fff"/><path d="M1487.32 844 L1502.54 855.06 L1496.72 872.94 L1477.92 872.94 L1472.1 855.06 Z"/><path d="M1487.32 847.21 L1499.48 856.05 L1494.84 870.34 L1479.8 870.34 L1475.16 856.05 Z" fill="#fff"/><path d="M1544.53 867 L1559.75 878.06 L1553.93 895.94 L1535.13 895.94 L1529.31 878.06 Z"/><path d="M1544.53 870.21 L1556.69 879.05 L1552.05 893.34 L1537.01 893.34 L1532.37 879.05 Z" fill="#fff"/><path d="M1601.74 906 L1616.96 917.06 L1611.14 934.94 L1592.34 934.94 L1586.52 917.06 Z"/><path d="M1601.74 909.21 L1613.9 918.05 L1609.26 932.34 L1594.22 932.34 L1589.58 918.05 Z" fill="#fff"/><path d="M1658.95 964 L1674.17 975.06 L1668.35 992.94 L1649.55 992.94 L1643.73 975.06 Z"/><path d="M1658.95 967.21 L1671.11 976.05 L1666.47 990.34 L1651.43 990.34 L1646.79 976.05 Z" fill="#fff"/><path d="M1716.16 1003.3 L1731.38 1014.36 L1725.56 1032.24 L1706.76 1032.24 L1700.94 1014.36 Z"/><path d="M1716.16 1006.51 L1728.32 1015.35 L1723.68 1029.64 L1708.64 1029.64 L1704 1015.35 Z" fill="#fff"/><path d="M1773.37 1050 L1788.59 1061.06 L1782.77 1078.94 L1763.97 1078.94 L1758.15 1061.06 Z"/><path d="M1773.37 1053.21 L1785.53 1062.05 L1780.89 1076.34 L1765.85 1076.34 L1761.21 1062.05 Z" fill="#fff"/><path d="M1830.58 1113 L1845.8 1124.06 L1839.98 1141.94 L1821.18 1141.94 L1815.36 1124.06 Z"/><path d="M1830.58 1116.21 L1842.74 1125.05 L1838.1 1139.34 L1823.06 1139.34 L1818.42 1125.05 Z" fill="#fff"/><path d="M1887.79 1161 L1903.01 1172.06 L1897.19 1189.94 L1878.39 1189.94 L1872.57 1172.06 Z"/><path d="M1887.79 1164.21 L1899.95 1173.05 L1895.31 1187.34 L1880.27 1187.34 L1875.63 1173.05 Z" fill="#fff"/></g><path d="M532.25 815.75L554.46 815.95M589.46 816.25L611.67 816.45M646.67 816.78L668.88 817.02M703.88 817.35L726.09 817.55M761.09 817.82L783.3 817.98M818.3 818.22L840.51 818.38M875.51 818.44L897.72 818.36M932.72 818.61L954.93 818.99M989.93 819.61L1012.14 819.99M1047.13 820.82L1069.36 821.48M1104.34 822.61L1126.57 823.39M1161.54 824.76L1183.79 825.74M1218.74 827.57L1241.01 828.93M1275.84 832.22L1298.33 835.08M1332.84 840.81L1355.75 845.49M1389.51 854.52L1413.5 862.48M1445.83 875.69L1471.6 888.31M1501.8 905.82L1530.05 924.98M1556.91 947.17L1589.36 979.63M1612.44 1005.84L1648.25 1052.16M1669.13 1080.23L1705.98 1131.77M1725.8 1160.61L1763.73 1218.09M1783.12 1247.23L1820.83 1303.47M1840.51 1332.41L1877.86 1386.59" stroke="#000" stroke-width="2.9" fill="none"/><g fill="#000"><path d="M533.25 815.6 L505.5 831.62 L505.5 799.58 Z"/><path d="M590.46 816.1 L562.71 832.12 L562.71 800.08 Z"/><path d="M647.67 816.6 L619.92 832.62 L619.92 800.58 Z"/><path d="M704.88 817.2 L677.13 833.22 L677.13 801.18 Z"/><path d="M762.09 817.7 L734.34 833.72 L734.34 801.68 Z"/><path d="M819.3 818.1 L791.55 834.12 L791.55 802.08 Z"/><path d="M876.51 818.5 L848.76 834.52 L848.76 802.48 Z"/><path d="M933.72 818.3 L905.97 834.32 L905.97 802.28 Z"/><path d="M990.93 819.3 L963.18 835.32 L963.18 803.28 Z"/><path d="M1048.14 820.3 L1020.39 836.32 L1020.39 804.28 Z"/><path d="M1105.35 822 L1077.6 838.02 L1077.6 805.98 Z"/><path d="M1162.56 824 L1134.81 840.02 L1134.81 807.98 Z"/><path d="M1219.77 826.5 L1192.02 842.52 L1192.02 810.48 Z"/><path d="M1276.98 830 L1249.23 846.02 L1249.23 813.98 Z"/><path d="M1334.19 837.3 L1306.44 853.32 L1306.44 821.28 Z"/><path d="M1391.4 849 L1363.65 865.02 L1363.65 832.98 Z"/><path d="M1448.61 868 L1420.86 884.02 L1420.86 851.98 Z"/><path d="M1505.82 896 L1478.07 912.02 L1478.07 879.98 Z"/><path d="M1563.03 934.8 L1535.28 950.82 L1535.28 918.78 Z"/><path d="M1620.24 992 L1592.49 1008.02 L1592.49 975.98 Z"/><path d="M1677.45 1066 L1649.7 1082.02 L1649.7 1049.98 Z"/><path d="M1734.66 1146 L1706.91 1162.02 L1706.91 1129.98 Z"/><path d="M1791.87 1232.7 L1764.12 1248.72 L1764.12 1216.68 Z"/><path d="M1849.08 1318 L1821.33 1334.02 L1821.33 1301.98 Z"/><path d="M1906.29 1401 L1878.54 1417.02 L1878.54 1384.98 Z"/></g><path d="M532.25 862.18L554.46 862.42M589.46 862.81L611.67 863.09M646.67 863.51L668.88 863.79M703.88 864.24L726.09 864.56M761.09 865.04L783.3 865.36M818.3 865.91L840.51 866.29M875.49 867.33L897.74 868.27M932.7 869.79L954.95 870.81M989.92 872.21L1012.15 872.99M1047.13 874.21L1069.36 874.99M1104.33 876.52L1126.58 877.68M1161.52 879.73L1183.81 881.17M1218.67 884.13L1241.08 886.47M1275.8 890.81L1298.37 894.09M1332.76 900.45L1355.83 905.65M1389.43 915.25L1413.58 923.65M1446 936.73L1471.43 948.47M1502.5 964.5L1529.35 979.9M1558.98 998.47L1587.29 1017.83M1616.22 1037.52L1644.47 1056.68M1673.23 1076.61L1701.88 1096.89M1730.11 1117.56L1759.42 1139.74M1787.51 1160.61L1816.44 1181.69M1844.59 1202.48L1873.78 1224.32" stroke="#000" stroke-width="2.9" fill="none"/><g fill="#000"><path d="M533.25 862 L505.5 878.02 L505.5 845.98 Z"/><path d="M528.05 862 L508.1 873.52 L508.1 850.48 Z" fill="#fff"/><path d="M590.46 862.6 L562.71 878.62 L562.71 846.58 Z"/><path d="M585.26 862.6 L565.31 874.12 L565.31 851.08 Z" fill="#fff"/><path d="M647.67 863.3 L619.92 879.32 L619.92 847.28 Z"/><path d="M642.47 863.3 L622.52 874.82 L622.52 851.78 Z" fill="#fff"/><path d="M704.88 864 L677.13 880.02 L677.13 847.98 Z"/><path d="M699.68 864 L679.73 875.52 L679.73 852.48 Z" fill="#fff"/><path d="M762.09 864.8 L734.34 880.82 L734.34 848.78 Z"/><path d="M756.89 864.8 L736.94 876.32 L736.94 853.28 Z" fill="#fff"/><path d="M819.3 865.6 L791.55 881.62 L791.55 849.58 Z"/><path d="M814.1 865.6 L794.15 877.12 L794.15 854.08 Z" fill="#fff"/><path d="M876.51 866.6 L848.76 882.62 L848.76 850.58 Z"/><path d="M871.31 866.6 L851.36 878.12 L851.36 855.08 Z" fill="#fff"/><path d="M933.72 869 L905.97 885.02 L905.97 852.98 Z"/><path d="M928.52 869 L908.57 880.52 L908.57 857.48 Z" fill="#fff"/><path d="M990.93 871.6 L963.18 887.62 L963.18 855.58 Z"/><path d="M985.73 871.6 L965.78 883.12 L965.78 860.08 Z" fill="#fff"/><path d="M1048.14 873.6 L1020.39 889.62 L1020.39 857.58 Z"/><path d="M1042.94 873.6 L1022.99 885.12 L1022.99 862.08 Z" fill="#fff"/><path d="M1105.35 875.6 L1077.6 891.62 L1077.6 859.58 Z"/><path d="M1100.15 875.6 L1080.2 887.12 L1080.2 864.08 Z" fill="#fff"/><path d="M1162.56 878.6 L1134.81 894.62 L1134.81 862.58 Z"/><path d="M1157.36 878.6 L1137.41 890.12 L1137.41 867.08 Z" fill="#fff"/><path d="M1219.77 882.3 L1192.02 898.32 L1192.02 866.28 Z"/><path d="M1214.57 882.3 L1194.62 893.82 L1194.62 870.78 Z" fill="#fff"/><path d="M1276.98 888.3 L1249.23 904.32 L1249.23 872.28 Z"/><path d="M1271.78 888.3 L1251.83 899.82 L1251.83 876.78 Z" fill="#fff"/><path d="M1334.19 896.6 L1306.44 912.62 L1306.44 880.58 Z"/><path d="M1328.99 896.6 L1309.04 908.12 L1309.04 885.08 Z" fill="#fff"/><path d="M1391.4 909.5 L1363.65 925.52 L1363.65 893.48 Z"/><path d="M1386.2 909.5 L1366.25 921.02 L1366.25 897.98 Z" fill="#fff"/><path d="M1448.61 929.4 L1420.86 945.42 L1420.86 913.38 Z"/><path d="M1443.41 929.4 L1423.46 940.92 L1423.46 917.88 Z" fill="#fff"/><path d="M1505.82 955.8 L1478.07 971.82 L1478.07 939.78 Z"/><path d="M1500.62 955.8 L1480.67 967.32 L1480.67 944.28 Z" fill="#fff"/><path d="M1563.03 988.6 L1535.28 1004.62 L1535.28 972.58 Z"/><path d="M1557.83 988.6 L1537.88 1000.12 L1537.88 977.08 Z" fill="#fff"/><path d="M1620.24 1027.7 L1592.49 1043.72 L1592.49 1011.68 Z"/><path d="M1615.04 1027.7 L1595.09 1039.22 L1595.09 1016.18 Z" fill="#fff"/><path d="M1677.45 1066.5 L1649.7 1082.52 L1649.7 1050.48 Z"/><path d="M1672.25 1066.5 L1652.3 1078.02 L1652.3 1054.98 Z" fill="#fff"/><path d="M1734.66 1107 L1706.91 1123.02 L1706.91 1090.98 Z"/><path d="M1729.46 1107 L1709.51 1118.52 L1709.51 1095.48 Z" fill="#fff"/><path d="M1791.87 1150.3 L1764.12 1166.32 L1764.12 1134.28 Z"/><path d="M1786.67 1150.3 L1766.72 1161.82 L1766.72 1138.78 Z" fill="#fff"/><path d="M1849.08 1192 L1821.33 1208.02 L1821.33 1175.98 Z"/><path d="M1843.88 1192 L1823.93 1203.52 L1823.93 1180.48 Z" fill="#fff"/><path d="M1906.29 1234.8 L1878.54 1250.82 L1878.54 1218.78 Z"/><path d="M1901.09 1234.8 L1881.14 1246.32 L1881.14 1223.28 Z" fill="#fff"/></g><path d="M532.25 892.15L554.46 892.35M589.46 892.65L611.67 892.85M646.67 893.15L668.88 893.35M703.88 893.65L726.09 893.85M761.09 894.15L783.3 894.35M818.3 894.65L840.51 894.85M875.51 895L897.72 895M932.72 894.85L954.93 894.65M989.93 894.5L1012.14 894.5M1047.14 894.65L1069.35 894.85M1104.35 895.31L1126.56 895.69M1161.56 895.69L1183.77 895.31M1218.76 895.49L1240.99 896.11M1275.95 897.64L1298.22 898.96M1333.06 902.13L1355.53 904.87M1390.12 910.1L1412.89 914.2M1446.63 923.08L1470.8 931.52M1502.12 946.64L1529.73 964.06M1556.37 986.29L1589.9 1022.81M1612.83 1049.23L1647.86 1091.97M1670.17 1118.93L1704.94 1160.57M1727.82 1187.05L1761.71 1224.95M1786.55 1249.52L1817.4 1276.48M1834.18 1305.13L1884.19 1543.37" stroke="#000" stroke-width="2.9" fill="none"/><g fill="#000"><path d="M514.75 876.3 L518.87 886.5 L530.13 887.15 L521.41 894.1 L524.26 904.7 L514.75 898.8 L505.24 904.7 L508.09 894.1 L499.37 887.15 L510.63 886.5 Z"/><path d="M571.96 876.8 L576.08 887 L587.34 887.65 L578.62 894.6 L581.47 905.2 L571.96 899.3 L562.45 905.2 L565.3 894.6 L556.58 887.65 L567.84 887 Z"/><path d="M629.17 877.3 L633.29 887.5 L644.55 888.15 L635.83 895.1 L638.68 905.7 L629.17 899.8 L619.66 905.7 L622.51 895.1 L613.79 888.15 L625.05 887.5 Z"/><path d="M686.38 877.8 L690.5 888 L701.76 888.65 L693.04 895.6 L695.89 906.2 L686.38 900.3 L676.87 906.2 L679.72 895.6 L671 888.65 L682.26 888 Z"/><path d="M743.59 878.3 L747.71 888.5 L758.97 889.15 L750.25 896.1 L753.1 906.7 L743.59 900.8 L734.08 906.7 L736.93 896.1 L728.21 889.15 L739.47 888.5 Z"/><path d="M800.8 878.8 L804.92 889 L816.18 889.65 L807.46 896.6 L810.31 907.2 L800.8 901.3 L791.29 907.2 L794.14 896.6 L785.42 889.65 L796.68 889 Z"/><path d="M858.01 879.3 L862.13 889.5 L873.39 890.15 L864.67 897.1 L867.52 907.7 L858.01 901.8 L848.5 907.7 L851.35 897.1 L842.63 890.15 L853.89 889.5 Z"/><path d="M915.22 879.3 L919.34 889.5 L930.6 890.15 L921.88 897.1 L924.73 907.7 L915.22 901.8 L905.71 907.7 L908.56 897.1 L899.84 890.15 L911.1 889.5 Z"/><path d="M972.43 878.8 L976.55 889 L987.81 889.65 L979.09 896.6 L981.94 907.2 L972.43 901.3 L962.92 907.2 L965.77 896.6 L957.05 889.65 L968.31 889 Z"/><path d="M1029.64 878.8 L1033.76 889 L1045.02 889.65 L1036.3 896.6 L1039.15 907.2 L1029.64 901.3 L1020.13 907.2 L1022.98 896.6 L1014.26 889.65 L1025.52 889 Z"/><path d="M1086.85 879.3 L1090.97 889.5 L1102.23 890.15 L1093.51 897.1 L1096.36 907.7 L1086.85 901.8 L1077.34 907.7 L1080.19 897.1 L1071.47 890.15 L1082.73 889.5 Z"/><path d="M1144.06 880.3 L1148.18 890.5 L1159.44 891.15 L1150.72 898.1 L1153.57 908.7 L1144.06 902.8 L1134.55 908.7 L1137.4 898.1 L1128.68 891.15 L1139.94 890.5 Z"/><path d="M1201.27 879.3 L1205.39 889.5 L1216.65 890.15 L1207.93 897.1 L1210.78 907.7 L1201.27 901.8 L1191.76 907.7 L1194.61 897.1 L1185.89 890.15 L1197.15 889.5 Z"/><path d="M1258.48 880.9 L1262.6 891.1 L1273.86 891.75 L1265.14 898.7 L1267.99 909.3 L1258.48 903.4 L1248.97 909.3 L1251.82 898.7 L1243.1 891.75 L1254.36 891.1 Z"/><path d="M1315.69 884.3 L1319.81 894.5 L1331.07 895.15 L1322.35 902.1 L1325.2 912.7 L1315.69 906.8 L1306.18 912.7 L1309.03 902.1 L1300.31 895.15 L1311.57 894.5 Z"/><path d="M1372.9 891.3 L1377.02 901.5 L1388.28 902.15 L1379.56 909.1 L1382.41 919.7 L1372.9 913.8 L1363.39 919.7 L1366.24 909.1 L1357.52 902.15 L1368.78 901.5 Z"/><path d="M1430.11 901.6 L1434.23 911.8 L1445.49 912.45 L1436.77 919.4 L1439.62 930 L1430.11 924.1 L1420.6 930 L1423.45 919.4 L1414.73 912.45 L1425.99 911.8 Z"/><path d="M1487.32 921.6 L1491.44 931.8 L1502.7 932.45 L1493.98 939.4 L1496.83 950 L1487.32 944.1 L1477.81 950 L1480.66 939.4 L1471.94 932.45 L1483.2 931.8 Z"/><path d="M1544.53 957.7 L1548.65 967.9 L1559.91 968.55 L1551.19 975.5 L1554.04 986.1 L1544.53 980.2 L1535.02 986.1 L1537.87 975.5 L1529.15 968.55 L1540.41 967.9 Z"/><path d="M1601.74 1020 L1605.86 1030.2 L1617.12 1030.85 L1608.4 1037.8 L1611.25 1048.4 L1601.74 1042.5 L1592.23 1048.4 L1595.08 1037.8 L1586.36 1030.85 L1597.62 1030.2 Z"/><path d="M1658.95 1089.8 L1663.07 1100 L1674.33 1100.65 L1665.61 1107.6 L1668.46 1118.2 L1658.95 1112.3 L1649.44 1118.2 L1652.29 1107.6 L1643.57 1100.65 L1654.83 1100 Z"/><path d="M1716.16 1158.3 L1720.28 1168.5 L1731.54 1169.15 L1722.82 1176.1 L1725.67 1186.7 L1716.16 1180.8 L1706.65 1186.7 L1709.5 1176.1 L1700.78 1169.15 L1712.04 1168.5 Z"/><path d="M1773.37 1222.3 L1777.49 1232.5 L1788.75 1233.15 L1780.03 1240.1 L1782.88 1250.7 L1773.37 1244.8 L1763.86 1250.7 L1766.71 1240.1 L1757.99 1233.15 L1769.25 1232.5 Z"/><path d="M1830.58 1272.3 L1834.7 1282.5 L1845.96 1283.15 L1837.24 1290.1 L1840.09 1300.7 L1830.58 1294.8 L1821.07 1300.7 L1823.92 1290.1 L1815.2 1283.15 L1826.46 1282.5 Z"/><path d="M1887.79 1544.8 L1891.91 1555 L1903.17 1555.65 L1894.45 1562.6 L1897.3 1573.2 L1887.79 1567.3 L1878.28 1573.2 L1881.13 1562.6 L1872.41 1555.65 L1883.67 1555 Z"/></g><path d="M532.25 941.31L554.46 941.69M589.46 942.31L611.67 942.69M646.67 943.31L668.88 943.69M703.88 944.15L726.09 944.35M761.09 944.81L783.3 945.19M818.3 945.65L840.51 945.85M875.51 946.15L897.72 946.35M932.71 946.96L954.94 947.54M989.93 948.31L1012.14 948.69M1047.14 949L1069.35 949M1104.35 949.31L1126.56 949.69M1161.56 950.31L1183.77 950.69M1218.76 951.64L1240.99 952.46M1275.94 954.26L1298.23 955.74M1333.09 958.76L1355.5 961.14M1390.11 966.16L1412.9 970.34M1446.86 978.57L1470.57 985.73M1502.95 998.67L1528.9 1011.73M1559.64 1028.42L1586.63 1044.18M1616.78 1061.94L1643.91 1078.06M1673.76 1096.32L1701.35 1113.68M1730.62 1132.86L1758.91 1152.14M1788.18 1171.32L1815.77 1188.68M1837.86 1213.91L1880.51 1307.09" stroke="#000" stroke-width="2.9" fill="none"/><g fill="#000"><path d="M514.75 925.3 L518.87 935.5 L530.13 936.15 L521.41 943.1 L524.26 953.7 L514.75 947.8 L505.24 953.7 L508.09 943.1 L499.37 936.15 L510.63 935.5 Z"/><path d="M514.75 932.78 L516.93 938.19 L522.66 938.52 L518.23 942.06 L519.72 947.59 L514.75 944.5 L509.78 947.59 L511.27 942.06 L506.84 938.52 L512.57 938.19 Z" fill="#fff"/><path d="M571.96 926.3 L576.08 936.5 L587.34 937.15 L578.62 944.1 L581.47 954.7 L571.96 948.8 L562.45 954.7 L565.3 944.1 L556.58 937.15 L567.84 936.5 Z"/><path d="M571.96 933.78 L574.14 939.19 L579.87 939.52 L575.44 943.06 L576.93 948.59 L571.96 945.5 L566.99 948.59 L568.48 943.06 L564.05 939.52 L569.78 939.19 Z" fill="#fff"/><path d="M629.17 927.3 L633.29 937.5 L644.55 938.15 L635.83 945.1 L638.68 955.7 L629.17 949.8 L619.66 955.7 L622.51 945.1 L613.79 938.15 L625.05 937.5 Z"/><path d="M629.17 934.78 L631.35 940.19 L637.08 940.52 L632.65 944.06 L634.14 949.59 L629.17 946.5 L624.2 949.59 L625.69 944.06 L621.26 940.52 L626.99 940.19 Z" fill="#fff"/><path d="M686.38 928.3 L690.5 938.5 L701.76 939.15 L693.04 946.1 L695.89 956.7 L686.38 950.8 L676.87 956.7 L679.72 946.1 L671 939.15 L682.26 938.5 Z"/><path d="M686.38 935.78 L688.56 941.19 L694.29 941.52 L689.86 945.06 L691.35 950.59 L686.38 947.5 L681.41 950.59 L682.9 945.06 L678.47 941.52 L684.2 941.19 Z" fill="#fff"/><path d="M743.59 928.8 L747.71 939 L758.97 939.65 L750.25 946.6 L753.1 957.2 L743.59 951.3 L734.08 957.2 L736.93 946.6 L728.21 939.65 L739.47 939 Z"/><path d="M743.59 936.28 L745.77 941.69 L751.5 942.02 L747.07 945.56 L748.56 951.09 L743.59 948 L738.62 951.09 L740.11 945.56 L735.68 942.02 L741.41 941.69 Z" fill="#fff"/><path d="M800.8 929.8 L804.92 940 L816.18 940.65 L807.46 947.6 L810.31 958.2 L800.8 952.3 L791.29 958.2 L794.14 947.6 L785.42 940.65 L796.68 940 Z"/><path d="M800.8 937.28 L802.98 942.69 L808.71 943.02 L804.28 946.56 L805.77 952.09 L800.8 949 L795.83 952.09 L797.32 946.56 L792.89 943.02 L798.62 942.69 Z" fill="#fff"/><path d="M858.01 930.3 L862.13 940.5 L873.39 941.15 L864.67 948.1 L867.52 958.7 L858.01 952.8 L848.5 958.7 L851.35 948.1 L842.63 941.15 L853.89 940.5 Z"/><path d="M858.01 937.78 L860.19 943.19 L865.92 943.52 L861.49 947.06 L862.98 952.59 L858.01 949.5 L853.04 952.59 L854.53 947.06 L850.1 943.52 L855.83 943.19 Z" fill="#fff"/><path d="M915.22 930.8 L919.34 941 L930.6 941.65 L921.88 948.6 L924.73 959.2 L915.22 953.3 L905.71 959.2 L908.56 948.6 L899.84 941.65 L911.1 941 Z"/><path d="M915.22 938.28 L917.4 943.69 L923.13 944.02 L918.7 947.56 L920.19 953.09 L915.22 950 L910.25 953.09 L911.74 947.56 L907.31 944.02 L913.04 943.69 Z" fill="#fff"/><path d="M972.43 932.3 L976.55 942.5 L987.81 943.15 L979.09 950.1 L981.94 960.7 L972.43 954.8 L962.92 960.7 L965.77 950.1 L957.05 943.15 L968.31 942.5 Z"/><path d="M972.43 939.78 L974.61 945.19 L980.34 945.52 L975.91 949.06 L977.4 954.59 L972.43 951.5 L967.46 954.59 L968.95 949.06 L964.52 945.52 L970.25 945.19 Z" fill="#fff"/><path d="M1029.64 933.3 L1033.76 943.5 L1045.02 944.15 L1036.3 951.1 L1039.15 961.7 L1029.64 955.8 L1020.13 961.7 L1022.98 951.1 L1014.26 944.15 L1025.52 943.5 Z"/><path d="M1029.64 940.78 L1031.82 946.19 L1037.55 946.52 L1033.12 950.06 L1034.61 955.59 L1029.64 952.5 L1024.67 955.59 L1026.16 950.06 L1021.73 946.52 L1027.46 946.19 Z" fill="#fff"/><path d="M1086.85 933.3 L1090.97 943.5 L1102.23 944.15 L1093.51 951.1 L1096.36 961.7 L1086.85 955.8 L1077.34 961.7 L1080.19 951.1 L1071.47 944.15 L1082.73 943.5 Z"/><path d="M1086.85 940.78 L1089.03 946.19 L1094.76 946.52 L1090.33 950.06 L1091.82 955.59 L1086.85 952.5 L1081.88 955.59 L1083.37 950.06 L1078.94 946.52 L1084.67 946.19 Z" fill="#fff"/><path d="M1144.06 934.3 L1148.18 944.5 L1159.44 945.15 L1150.72 952.1 L1153.57 962.7 L1144.06 956.8 L1134.55 962.7 L1137.4 952.1 L1128.68 945.15 L1139.94 944.5 Z"/><path d="M1144.06 941.78 L1146.24 947.19 L1151.97 947.52 L1147.54 951.06 L1149.03 956.59 L1144.06 953.5 L1139.09 956.59 L1140.58 951.06 L1136.15 947.52 L1141.88 947.19 Z" fill="#fff"/><path d="M1201.27 935.3 L1205.39 945.5 L1216.65 946.15 L1207.93 953.1 L1210.78 963.7 L1201.27 957.8 L1191.76 963.7 L1194.61 953.1 L1185.89 946.15 L1197.15 945.5 Z"/><path d="M1201.27 942.78 L1203.45 948.19 L1209.18 948.52 L1204.75 952.06 L1206.24 957.59 L1201.27 954.5 L1196.3 957.59 L1197.79 952.06 L1193.36 948.52 L1199.09 948.19 Z" fill="#fff"/><path d="M1258.48 937.4 L1262.6 947.6 L1273.86 948.25 L1265.14 955.2 L1267.99 965.8 L1258.48 959.9 L1248.97 965.8 L1251.82 955.2 L1243.1 948.25 L1254.36 947.6 Z"/><path d="M1258.48 944.88 L1260.66 950.29 L1266.39 950.62 L1261.96 954.16 L1263.45 959.69 L1258.48 956.6 L1253.51 959.69 L1255 954.16 L1250.57 950.62 L1256.3 950.29 Z" fill="#fff"/><path d="M1315.69 941.2 L1319.81 951.4 L1331.07 952.05 L1322.35 959 L1325.2 969.6 L1315.69 963.7 L1306.18 969.6 L1309.03 959 L1300.31 952.05 L1311.57 951.4 Z"/><path d="M1315.69 948.68 L1317.87 954.09 L1323.6 954.42 L1319.17 957.96 L1320.66 963.49 L1315.69 960.4 L1310.72 963.49 L1312.21 957.96 L1307.78 954.42 L1313.51 954.09 Z" fill="#fff"/><path d="M1372.9 947.3 L1377.02 957.5 L1388.28 958.15 L1379.56 965.1 L1382.41 975.7 L1372.9 969.8 L1363.39 975.7 L1366.24 965.1 L1357.52 958.15 L1368.78 957.5 Z"/><path d="M1372.9 954.78 L1375.08 960.19 L1380.81 960.52 L1376.38 964.06 L1377.87 969.59 L1372.9 966.5 L1367.93 969.59 L1369.42 964.06 L1364.99 960.52 L1370.72 960.19 Z" fill="#fff"/><path d="M1430.11 957.8 L1434.23 968 L1445.49 968.65 L1436.77 975.6 L1439.62 986.2 L1430.11 980.3 L1420.6 986.2 L1423.45 975.6 L1414.73 968.65 L1425.99 968 Z"/><path d="M1430.11 965.28 L1432.29 970.69 L1438.02 971.02 L1433.59 974.56 L1435.08 980.09 L1430.11 977 L1425.14 980.09 L1426.63 974.56 L1422.2 971.02 L1427.93 970.69 Z" fill="#fff"/><path d="M1487.32 975.1 L1491.44 985.3 L1502.7 985.95 L1493.98 992.9 L1496.83 1003.5 L1487.32 997.6 L1477.81 1003.5 L1480.66 992.9 L1471.94 985.95 L1483.2 985.3 Z"/><path d="M1487.32 982.58 L1489.5 987.99 L1495.23 988.32 L1490.8 991.86 L1492.29 997.39 L1487.32 994.3 L1482.35 997.39 L1483.84 991.86 L1479.41 988.32 L1485.14 987.99 Z" fill="#fff"/><path d="M1544.53 1003.9 L1548.65 1014.1 L1559.91 1014.75 L1551.19 1021.7 L1554.04 1032.3 L1544.53 1026.4 L1535.02 1032.3 L1537.87 1021.7 L1529.15 1014.75 L1540.41 1014.1 Z"/><path d="M1544.53 1011.38 L1546.71 1016.79 L1552.44 1017.12 L1548.01 1020.66 L1549.5 1026.19 L1544.53 1023.1 L1539.56 1026.19 L1541.05 1020.66 L1536.62 1017.12 L1542.35 1016.79 Z" fill="#fff"/><path d="M1601.74 1037.3 L1605.86 1047.5 L1617.12 1048.15 L1608.4 1055.1 L1611.25 1065.7 L1601.74 1059.8 L1592.23 1065.7 L1595.08 1055.1 L1586.36 1048.15 L1597.62 1047.5 Z"/><path d="M1601.74 1044.78 L1603.92 1050.19 L1609.65 1050.52 L1605.22 1054.06 L1606.71 1059.59 L1601.74 1056.5 L1596.77 1059.59 L1598.26 1054.06 L1593.83 1050.52 L1599.56 1050.19 Z" fill="#fff"/><path d="M1658.95 1071.3 L1663.07 1081.5 L1674.33 1082.15 L1665.61 1089.1 L1668.46 1099.7 L1658.95 1093.8 L1649.44 1099.7 L1652.29 1089.1 L1643.57 1082.15 L1654.83 1081.5 Z"/><path d="M1658.95 1078.78 L1661.13 1084.19 L1666.86 1084.52 L1662.43 1088.06 L1663.92 1093.59 L1658.95 1090.5 L1653.98 1093.59 L1655.47 1088.06 L1651.04 1084.52 L1656.77 1084.19 Z" fill="#fff"/><path d="M1716.16 1107.3 L1720.28 1117.5 L1731.54 1118.15 L1722.82 1125.1 L1725.67 1135.7 L1716.16 1129.8 L1706.65 1135.7 L1709.5 1125.1 L1700.78 1118.15 L1712.04 1117.5 Z"/><path d="M1716.16 1114.78 L1718.34 1120.19 L1724.07 1120.52 L1719.64 1124.06 L1721.13 1129.59 L1716.16 1126.5 L1711.19 1129.59 L1712.68 1124.06 L1708.25 1120.52 L1713.98 1120.19 Z" fill="#fff"/><path d="M1773.37 1146.3 L1777.49 1156.5 L1788.75 1157.15 L1780.03 1164.1 L1782.88 1174.7 L1773.37 1168.8 L1763.86 1174.7 L1766.71 1164.1 L1757.99 1157.15 L1769.25 1156.5 Z"/><path d="M1773.37 1153.78 L1775.55 1159.19 L1781.28 1159.52 L1776.85 1163.06 L1778.34 1168.59 L1773.37 1165.5 L1768.4 1168.59 L1769.89 1163.06 L1765.46 1159.52 L1771.19 1159.19 Z" fill="#fff"/><path d="M1830.58 1182.3 L1834.7 1192.5 L1845.96 1193.15 L1837.24 1200.1 L1840.09 1210.7 L1830.58 1204.8 L1821.07 1210.7 L1823.92 1200.1 L1815.2 1193.15 L1826.46 1192.5 Z"/><path d="M1830.58 1189.78 L1832.76 1195.19 L1838.49 1195.52 L1834.06 1199.06 L1835.55 1204.59 L1830.58 1201.5 L1825.61 1204.59 L1827.1 1199.06 L1822.67 1195.52 L1828.4 1195.19 Z" fill="#fff"/><path d="M1887.79 1307.3 L1891.91 1317.5 L1903.17 1318.15 L1894.45 1325.1 L1897.3 1335.7 L1887.79 1329.8 L1878.28 1335.7 L1881.13 1325.1 L1872.41 1318.15 L1883.67 1317.5 Z"/><path d="M1887.79 1314.78 L1889.97 1320.19 L1895.7 1320.52 L1891.27 1324.06 L1892.76 1329.59 L1887.79 1326.5 L1882.82 1329.59 L1884.31 1324.06 L1879.88 1320.52 L1885.61 1320.19 Z" fill="#fff"/></g></g></svg></body></html>
